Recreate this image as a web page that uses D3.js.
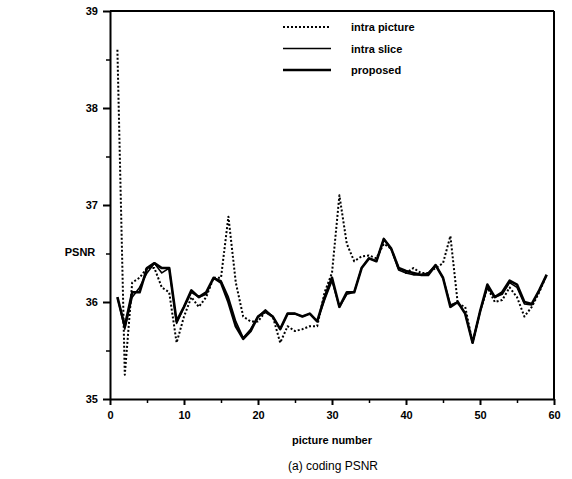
<!DOCTYPE html>
<html>
<head>
<meta charset="utf-8">
<script src="https://cdn.jsdelivr.net/npm/d3@7"></script>
<style>
body{margin:0;background:#fff;}
text{font-family:"Liberation Sans",Arial,sans-serif;fill:#000;}
.tick text{font-weight:bold;font-size:11px;}
.lab{font-weight:bold;font-size:11px;}
</style>
</head>
<body>
<svg width="572" height="479"></svg>
<script>
// picture numbers 1..59
var pictures = d3.range(1,60);

var intraPicture = [38.6,35.25,36.2,36.25,36.35,36.35,36.15,36.1,35.58,35.85,
  36.05,35.95,36.05,36.25,36.25,36.88,36.2,35.85,35.8,35.8,
  35.9,35.85,35.58,35.75,35.7,35.72,35.75,35.75,36.1,36.3,
  37.1,36.6,36.42,36.47,36.48,36.45,36.6,36.55,36.35,36.3,
  36.35,36.3,36.3,36.35,36.4,36.68,35.98,35.95,35.58,35.9,
  36.15,36.0,36.02,36.15,36.05,35.85,35.95,36.1,36.28];

var intraSlice = [36.05,35.72,36.05,36.15,36.3,36.4,36.3,36.35,35.78,35.95,
  36.1,36.05,36.08,36.25,36.22,36.05,35.8,35.63,35.72,35.85,
  35.92,35.85,35.72,35.88,35.88,35.85,35.88,35.8,36.02,36.22,
  35.95,36.08,36.1,36.35,36.45,36.42,36.65,36.55,36.33,36.3,
  36.28,36.28,36.3,36.38,36.25,35.97,36.0,35.88,35.58,35.9,
  36.15,36.05,36.08,36.2,36.15,35.98,35.97,36.12,36.28];

var proposed = [36.05,35.75,36.1,36.1,36.35,36.4,36.35,36.35,35.8,35.95,
  36.12,36.05,36.1,36.25,36.2,36.0,35.75,35.62,35.7,35.85,
  35.9,35.85,35.72,35.88,35.88,35.85,35.88,35.8,36.05,36.25,
  35.95,36.1,36.1,36.35,36.45,36.42,36.65,36.55,36.35,36.32,
  36.3,36.28,36.28,36.38,36.25,35.95,36.0,35.88,35.58,35.9,
  36.18,36.05,36.1,36.22,36.18,36.0,35.98,36.12,36.28];

var xTicks = [0,10,20,30,40,50,60];
var yTicks = [35,36,37,38,39];
var legendNames = ["intra picture","intra slice","proposed"];

var margins = {left:110,top:11,right:18,bottom:80};
var graph = {width:572-margins.left-margins.right, height:479-margins.top-margins.bottom};

var svg = d3.select("svg");

var xScale = d3.scaleLinear().domain([0,60]).range([0,graph.width]);
var yScale = d3.scaleLinear().domain([35,39]).range([graph.height,0]);

var g = svg.append("g")
  .attr("transform","translate("+margins.left+","+margins.top+")");

// minor ticks
g.append("g")
  .attr("transform","translate(0,"+graph.height+")")
  .call(d3.axisBottom(xScale).tickValues(d3.range(5,60,10)).tickSize(4).tickFormat(""))
  .call(function(a){a.select(".domain").remove();a.selectAll("line").attr("stroke-width",1.5);});
g.append("g")
  .call(d3.axisLeft(yScale).tickValues(d3.range(35.5,39,1)).tickSize(4).tickFormat(""))
  .call(function(a){a.select(".domain").remove();a.selectAll("line").attr("stroke-width",1.5);});

// major axes
g.append("g")
  .attr("transform","translate(0,"+graph.height+")")
  .call(d3.axisBottom(xScale).tickValues(xTicks).tickFormat(d3.format("d")).tickSize(6).tickPadding(6).tickSizeOuter(0))
  .call(function(a){a.select(".domain").attr("stroke-width",2);a.selectAll("line").attr("stroke-width",2);});
g.append("g")
  .call(d3.axisLeft(yScale).tickValues(yTicks).tickFormat(d3.format("d")).tickSize(7).tickPadding(5).tickSizeOuter(0))
  .call(function(a){a.select(".domain").attr("stroke-width",2);a.selectAll("line").attr("stroke-width",2);});

// frame top and right
g.append("line").attr("x1",0).attr("x2",graph.width).attr("y1",0).attr("y2",0)
  .attr("stroke","#000").attr("stroke-width",2);
g.append("line").attr("x1",graph.width).attr("x2",graph.width).attr("y1",0).attr("y2",graph.height)
  .attr("stroke","#000").attr("stroke-width",2);

var series = [
  {name:legendNames[0], values:intraPicture, width:2, dash:"2,2"},
  {name:legendNames[1], values:intraSlice, width:1.6, dash:null},
  {name:legendNames[2], values:proposed, width:2.6, dash:null}
];

var line = d3.line()
  .x(function(d,i){return xScale(pictures[i]);})
  .y(function(d){return yScale(d);});

g.selectAll("path.series")
  .data(series)
  .enter()
  .append("path")
  .attr("class","series")
  .attr("fill","none")
  .attr("stroke","#000")
  .attr("stroke-linejoin","round")
  .attr("stroke-width",function(d){return d.width;})
  .attr("stroke-dasharray",function(d){return d.dash;})
  .attr("d",function(d){return line(d.values);});

// legend
var legend = g.selectAll("g.legend")
  .data(series)
  .enter()
  .append("g")
  .attr("class","legend")
  .attr("transform",function(d,i){return "translate(173,"+(16+i*21.5)+")";});
legend.append("line")
  .attr("x1",0).attr("x2",48).attr("y1",0).attr("y2",0)
  .attr("stroke","#000")
  .attr("stroke-width",function(d){return d.width;})
  .attr("stroke-dasharray",function(d){return d.dash;});
legend.append("text")
  .attr("class","lab")
  .attr("x",68).attr("y",4)
  .text(function(d){return d.name;});

// labels
svg.append("text").attr("class","lab")
  .attr("x",80).attr("y",256).attr("text-anchor","middle")
  .text("PSNR");
svg.append("text").attr("class","lab")
  .attr("x",margins.left+graph.width/2).attr("y",444).attr("text-anchor","middle")
  .text("picture number");
svg.append("text")
  .attr("x",333).attr("y",470).attr("text-anchor","middle")
  .style("font-size","12px")
  .text("(a) coding PSNR");
</script>
</body>
</html>
